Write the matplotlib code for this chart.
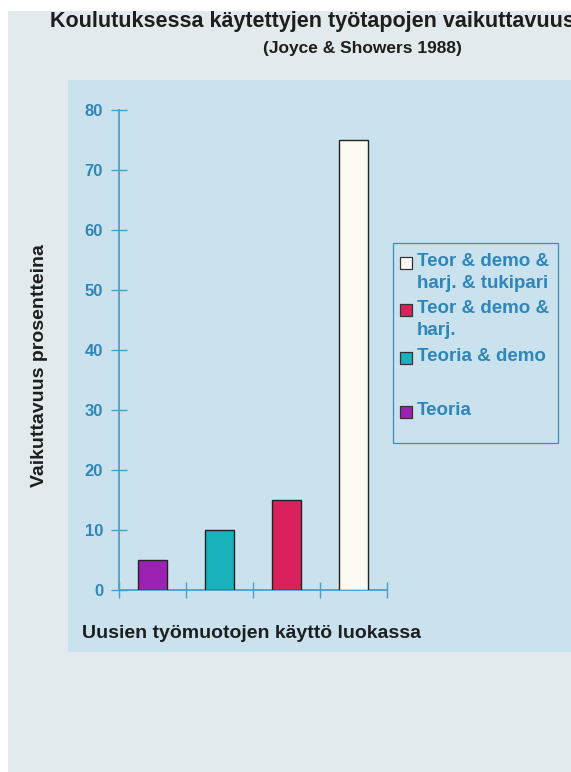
import matplotlib
matplotlib.use("Agg")
import matplotlib.pyplot as plt
from matplotlib.patches import Rectangle
from matplotlib import font_manager

# ---- data ----
categories = ["Teoria", "Teoria & demo", "Teor & demo &\nharj.", "Teor & demo &\nharj. & tukipari"]
values = [5, 10, 15, 75]
colors = ["#9c22b4", "#19b1bb", "#d9215e", "#fcfaf2"]
yticks = [0, 10, 20, 30, 40, 50, 60, 70, 80]
title = "Koulutuksessa käytettyjen työtapojen vaikuttavuus"
subtitle = "(Joyce & Showers 1988)"
ylabel = "Vaikuttavuus prosentteina"
xlabel = "Uusien työmuotojen käyttö luokassa"

W, H = 571, 772
BLUE = "#2f86b8"
AXBLUE = "#4c9fca"
FONT = ["Liberation Sans", "DejaVu Sans"]
names = {f.name for f in font_manager.fontManager.ttflist}
NARROW = ["Liberation Sans Narrow", "Liberation Sans"] if "Liberation Sans Narrow" in names else FONT
title_size = 19 if "Liberation Sans Narrow" in names else 15.5

fig = plt.figure(figsize=(W / 100, H / 100), dpi=100)
fig.patch.set_facecolor("#e2eaed")

def px(x, y):
    return x / W, 1 - y / H

# background panel
fig.patches.append(Rectangle(px(68, 652), (W - 68) / W, (652 - 80) / H,
                             transform=fig.transFigure, facecolor="#c9e2ee",
                             edgecolor="none", zorder=0))
# scanner white edges
fig.patches.append(Rectangle((0, 0), 8 / W, 1, transform=fig.transFigure,
                             facecolor="white", edgecolor="none", zorder=0.5))
fig.patches.append(Rectangle(px(0, 11), 1, 11 / H, transform=fig.transFigure,
                             facecolor="white", edgecolor="none", zorder=10))

ax = fig.add_axes([119 / W, 1 - 590 / H, (387 - 119) / W, (590 - 110) / H])
ax.set_zorder(2)
ax.set_facecolor("none")
x = [i + 0.5 for i in range(len(values))]
ax.bar(x, values, width=0.42, color=colors, edgecolor="#222222", linewidth=1.0, zorder=3)
ax.set_xlim(0, 4)
ax.set_ylim(0, 80)
ax.set_xticks(range(5))
ax.set_xticklabels([])
ax.set_yticks(yticks)
ax.set_yticklabels([str(t) for t in yticks], fontsize=12, fontweight="bold",
                   color=BLUE, family=FONT)
for s in ["top", "right"]:
    ax.spines[s].set_visible(False)
for s in ["left", "bottom"]:
    ax.spines[s].set_color(AXBLUE)
    ax.spines[s].set_linewidth(1.3)
ax.tick_params(axis="both", direction="inout", length=11, width=1.0, color=AXBLUE, pad=6)

# titles and labels
fig.text(*px(50, 27), title, ha="left", va="baseline", fontsize=title_size,
         fontweight="bold", color="#1e1e1e", family=NARROW, zorder=5)
fig.text(*px(263, 53), subtitle, ha="left", va="baseline", fontsize=12.5,
         fontweight="bold", color="#1e1e1e", family=FONT)
fig.text(*px(40, 366), ylabel, ha="center", va="center", rotation=90, fontsize=14,
         fontweight="bold", color="#1e1e1e", family=FONT)
fig.text(*px(82, 638), xlabel, ha="left", va="baseline", fontsize=14,
         fontweight="bold", color="#1e1e1e", family=FONT)

# legend (reversed order, drawn manually)
fig.patches.append(Rectangle(px(393, 443), (558 - 393) / W, (443 - 243) / H,
                             transform=fig.transFigure, facecolor="none",
                             edgecolor="#3f8db5", linewidth=0.9, zorder=4))
entry_y = [263, 310, 358, 412]
for yy, lab, col in zip(entry_y, categories[::-1], colors[::-1]):
    fig.patches.append(Rectangle(px(400, yy + 6), 12 / W, 12 / H,
                                 transform=fig.transFigure, facecolor=col,
                                 edgecolor="#333333", linewidth=0.9, zorder=4))
    fig.text(*px(417, yy - 10), lab, ha="left", va="top", fontsize=13.5,
             fontweight="bold", color=BLUE, family=FONT, linespacing=1.35)

fig.savefig("out.png", dpi=100, facecolor=fig.get_facecolor())
